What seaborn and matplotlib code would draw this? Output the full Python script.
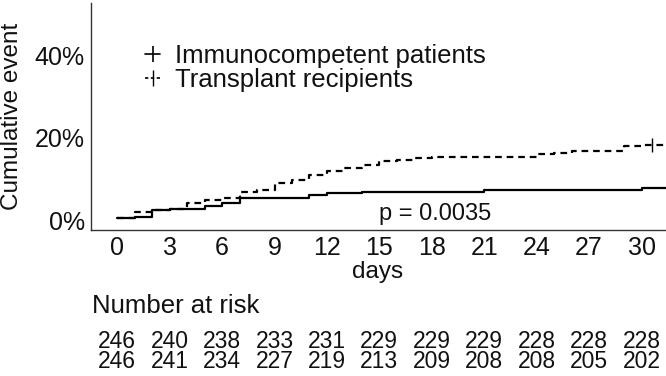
"""
Cumulative incidence of events over 30 days, immunocompetent patients vs
transplant recipients, with a number-at-risk table underneath.
"""
import numpy as np
import pandas as pd
import matplotlib
matplotlib.use('Agg')
import matplotlib.pyplot as plt
import matplotlib.transforms as mtransforms
from matplotlib.lines import Line2D
import seaborn as sns

# ---- data ----
groups = ['Immunocompetent patients', 'Transplant recipients']

immuno_days = [0, 1, 2, 3, 5, 6, 7, 11, 12, 14, 21, 30, 31.4]
immuno_cum = [0.4, 0.8, 2.4, 2.8, 3.3, 4.1, 5.3, 6.1, 6.5, 6.9, 7.3, 7.7, 7.7]

transplant_days = [0, 1, 2, 3, 4, 5, 6, 7, 8, 9, 10, 11, 12, 13, 14, 15, 16,
                   17, 18, 24, 25, 26, 29, 30, 31.4]
transplant_cum = [0.4, 2.0, 2.4, 2.8, 4.1, 4.9, 5.3, 6.9, 7.3, 8.9, 9.8, 11.0,
                  11.8, 12.6, 13.4, 14.2, 14.6, 15.0, 15.4, 15.9, 16.3, 16.7,
                  17.9, 18.3, 18.3]

censor_day = [30.6]
censor_cum = [18.3]

risk_days = [0, 3, 6, 9, 12, 15, 18, 21, 24, 27, 30]
risk_immuno = [246, 240, 238, 233, 231, 229, 229, 229, 228, 228, 228]
risk_transplant = [246, 241, 234, 227, 219, 213, 209, 208, 208, 205, 202]

p_label = 'p = 0.0035'
y_ticks = [0, 20, 40]
y_ticklabels = ['0%', '20%', '40%']


def main():
    sns.set_style('white')
    plt.rcParams['font.family'] = ['Liberation Sans', 'DejaVu Sans']
    txt = '#111111'

    df = pd.concat([
        pd.DataFrame({'day': immuno_days, 'cum': immuno_cum, 'group': groups[0]}),
        pd.DataFrame({'day': transplant_days, 'cum': transplant_cum, 'group': groups[1]}),
    ])

    fig = plt.figure(figsize=(6.66, 3.76), dpi=100)
    ax = fig.add_axes([91 / 666, 146 / 376, 575 / 666, 227 / 376])

    sns.lineplot(data=df[df.group == groups[0]], x='day', y='cum',
                 drawstyle='steps-post', estimator=None, color='black',
                 lw=1.6, ax=ax)
    sns.lineplot(data=df[df.group == groups[1]], x='day', y='cum',
                 drawstyle='steps-post', estimator=None, color='black',
                 lw=1.6, linestyle=(0, (3.0, 2.2)), ax=ax)
    ax.scatter(censor_day, censor_cum, marker='|', s=90, c='black',
               linewidths=1.0, zorder=3)

    ax.set_xlim(-1.5, 31.4)
    ax.set_ylim(-2.4, 52.6)
    ax.set_xticks(risk_days)
    ax.set_yticks(y_ticks)
    ax.set_yticklabels(y_ticklabels)
    ax.tick_params(axis='both', labelsize=18, length=3, width=0.8,
                   pad=1.5, colors='#333333', labelcolor=txt)
    for side in ['top', 'right']:
        ax.spines[side].set_visible(False)
    for side in ['left', 'bottom']:
        ax.spines[side].set_color('#333333')
        ax.spines[side].set_linewidth(1.0)

    ax.set_ylabel('Cumulative event', fontsize=17.5, color=txt)
    ax.yaxis.set_label_coords(-0.137, 0.5)
    ax.yaxis.label.set_va('center')
    ax.set_xlabel('days', fontsize=17.5, color=txt)
    ax.xaxis.set_label_coords(0.499, -0.185)
    ax.xaxis.label.set_va('center')

    ax.text(15, 1.5, p_label, fontsize=17, color=txt, va='center', ha='left')

    handles = [
        Line2D([0], [0], color='black', lw=1.2, marker='|', markersize=11,
               markeredgewidth=1.2),
        Line2D([0], [0], color='black', lw=1.2, linestyle=(0, (2, 1.5)),
               marker='|', markersize=11, markeredgewidth=1.0),
    ]
    ax.legend(handles, groups, loc='center left',
              bbox_to_anchor=(54 / 575, 0.715), frameon=False, fontsize=18.5,
              handlelength=0.6, handletextpad=0.55, labelspacing=0.0,
              borderpad=0, borderaxespad=0, labelcolor=txt)

    # number at risk table
    fig.text(92 / 666, 1 - 306 / 376, 'Number at risk', fontsize=18.5,
             color=txt, va='center', ha='left')
    trans = mtransforms.blended_transform_factory(ax.transData, fig.transFigure)
    for row, y in [(risk_immuno, 1 - 341 / 376), (risk_transplant, 1 - 362 / 376)]:
        for d, n in zip(risk_days, row):
            ax.text(d, y, str(n), transform=trans, fontsize=16.5, color=txt,
                    ha='center', va='center', clip_on=False)

    fig.savefig('out.png', dpi=100)


if __name__ == '__main__':
    main()
